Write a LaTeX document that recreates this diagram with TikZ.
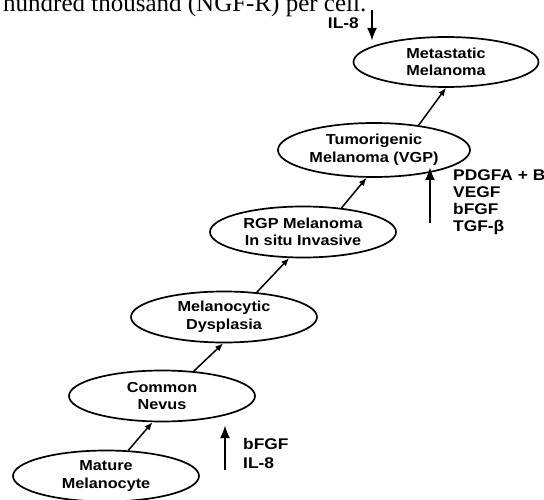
\documentclass[tikz,border=0pt]{standalone}
\usepackage{fontspec}
\setmainfont{Liberation Serif}
\newfontfamily\figfont[FakeStretch=1.12]{Liberation Sans}
\usetikzlibrary{shapes.geometric,arrows.meta}

\begin{document}
\begin{tikzpicture}[
    x=1pt, y=-1pt,
    >={Latex[length=8pt,width=6.5pt]},
    every node/.style={font=\figfont\bfseries\fontsize{14.5}{17.5}\selectfont},
    stage/.style={draw, ellipse, line width=1.7pt, minimum width=186pt, minimum height=51pt, inner sep=0pt, align=center},
    advance/.style={->, line width=1.5pt},
    signal/.style={-{Latex[length=13pt,width=10pt]}, line width=2.8pt},
    factors/.style={align=left, inner sep=0pt, anchor=west, font=\figfont\bfseries\fontsize{15.5}{17}\selectfont}
  ]
  \useasboundingbox (0,0) rectangle (544,500);

    %------------------ Page text cut by the figure ------------------%
    \begin{scope}
      \clip (0,0) rectangle (544,500);
      \node[anchor=base west, inner sep=0pt, font=\fontsize{25}{25}\selectfont] (caption) at (3,12) {hundred thousand (NGF-R) per cell.};
    \end{scope}

    %------------------ Stages of progression ------------------%
    \node[stage] (mature) at (106,476) {Mature\\Melanocyte};
    \node[stage] (nevus) at (162,396) {Common\\Nevus};
    \node[stage] (dysplasia) at (224,317) {Melanocytic\\Dysplasia};
    \node[stage] (rgp) at (303,232) {RGP Melanoma\\In situ Invasive};
    \node[stage, minimum width=192pt, minimum height=54pt] (vgp) at (374,150) {Tumorigenic\\Melanoma (VGP)};
    \node[stage, minimum width=185pt, minimum height=50pt] (metastatic) at (446,62) {Metastatic\\Melanoma};

    % Steps
    \draw[advance] (mature.49) -- (nevus.250);
    \draw[advance] (nevus.38) -- (dysplasia.268);
    \draw[advance] (dysplasia.37) -- (rgp.242);
    \draw[advance] (rgp.32) -- (vgp.255);
    \draw[advance] (vgp.29) -- (metastatic.270);

    %------------------ Growth factors ------------------%
    % IL-8 above the metastatic stage
    \node[factors, anchor=east] (il8) at (359,23) {IL-8};
    \coordinate (il8from) at (372,10);
    \coordinate (il8to) at (372,41);
    \draw[signal] (il8from) -- (il8to);

    % Factors of the vertical growth phase
    \node[factors] (vgpfactors) at (453,202) {PDGFA + B\\VEGF\\bFGF\\TGF-β};
    \coordinate (vgpfrom) at (430,223);
    \coordinate (vgpto) at (430,167);
    \draw[signal] (vgpfrom) -- (vgpto);

    % Factors of the nevus
    \node[factors, font=\figfont\bfseries\fontsize{15.5}{19}\selectfont] (nevusfactors) at (243,453) {bFGF\\IL-8};
    \coordinate (nevusfrom) at (225,470);
    \coordinate (nevusto) at (225,425);
    \draw[signal] (nevusfrom) -- (nevusto);

  \end{tikzpicture}
\end{document}
